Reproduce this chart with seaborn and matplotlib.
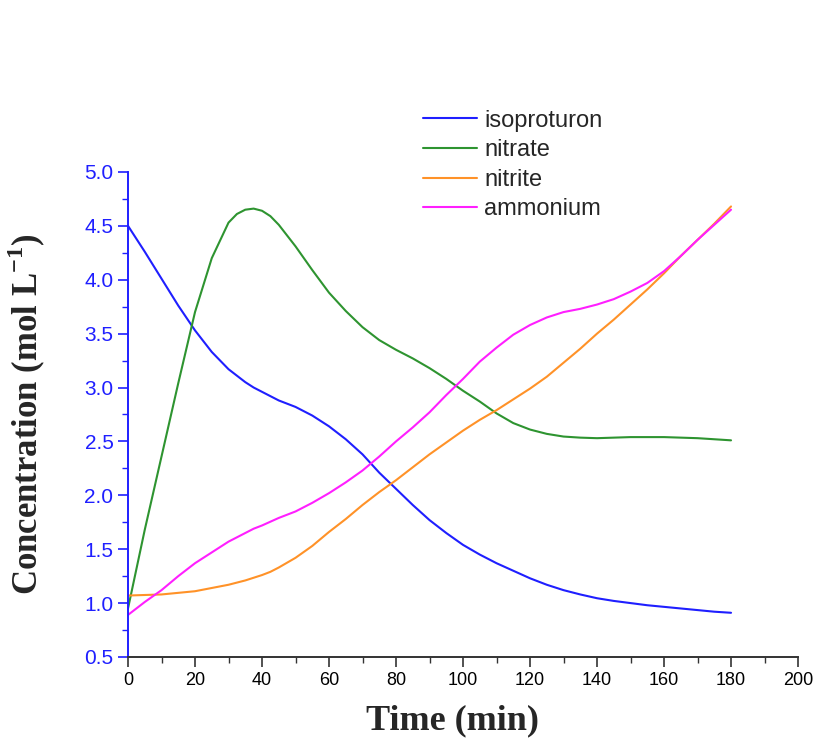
"""Concentration of isoproturon and nitrogen species over treatment time."""

import matplotlib

matplotlib.use("Agg")
import matplotlib.pyplot as plt
import pandas as pd
import seaborn as sns
from matplotlib.ticker import FormatStrFormatter, MultipleLocator

TIME = [0, 5, 10, 15, 20, 25, 30, 32.5, 35, 37.5, 40, 42.5, 45, 50, 55, 60, 65, 70, 75, 80,
        85, 90, 95, 100, 105, 110, 115, 120, 125, 130, 135, 140, 145, 150, 155, 160, 165, 170, 175, 180]

ISOPROTURON = [4.50, 4.26, 4.01, 3.76, 3.53, 3.33, 3.17, 3.11, 3.05, 3.00, 2.96, 2.92, 2.88, 2.82, 2.74,
               2.64, 2.52, 2.38, 2.21, 2.06, 1.91, 1.77, 1.65, 1.54, 1.45, 1.37, 1.30, 1.23, 1.17, 1.12,
               1.08, 1.045, 1.02, 1.00, 0.98, 0.965, 0.95, 0.935, 0.92, 0.91]
NITRATE = [0.95, 1.68, 2.36, 3.04, 3.70, 4.20, 4.53, 4.61, 4.65, 4.66, 4.64, 4.59, 4.51, 4.31, 4.09,
           3.88, 3.71, 3.56, 3.44, 3.35, 3.27, 3.18, 3.08, 2.97, 2.87, 2.76, 2.67, 2.61, 2.57, 2.545,
           2.535, 2.53, 2.535, 2.54, 2.54, 2.54, 2.535, 2.53, 2.52, 2.51]
NITRITE = [1.07, 1.075, 1.08, 1.095, 1.11, 1.14, 1.17, 1.19, 1.21, 1.235, 1.26, 1.29, 1.33, 1.42, 1.53,
           1.66, 1.78, 1.91, 2.03, 2.14, 2.26, 2.38, 2.49, 2.60, 2.70, 2.79, 2.89, 2.99, 3.10, 3.23,
           3.36, 3.50, 3.63, 3.77, 3.91, 4.06, 4.22, 4.37, 4.52, 4.68]
AMMONIUM = [0.89, 1.01, 1.12, 1.25, 1.37, 1.47, 1.57, 1.61, 1.65, 1.69, 1.72, 1.755, 1.79, 1.85, 1.93,
            2.02, 2.12, 2.23, 2.36, 2.50, 2.63, 2.77, 2.93, 3.08, 3.24, 3.37, 3.49, 3.58, 3.65, 3.70,
            3.73, 3.77, 3.82, 3.89, 3.97, 4.08, 4.22, 4.37, 4.51, 4.65]

SERIES = {
    "isoproturon": ISOPROTURON,
    "nitrate": NITRATE,
    "nitrite": NITRITE,
    "ammonium": AMMONIUM,
}
COLORS = {
    "isoproturon": "#1f1fff",
    "nitrate": "#2e9430",
    "nitrite": "#ff9228",
    "ammonium": "#ff1fff",
}
AXIS_BLUE = "#1f1fff"
SERIF = ["Liberation Serif", "DejaVu Serif"]

frames = [pd.DataFrame({"time": TIME, "conc": values, "species": name}) for name, values in SERIES.items()]
data = pd.concat(frames, ignore_index=True)

sns.set_style("ticks")
plt.rcParams["font.family"] = ["Liberation Sans", "DejaVu Sans"]
plt.rcParams["mathtext.fontset"] = "custom"
plt.rcParams["mathtext.rm"] = "Liberation Serif"
plt.rcParams["mathtext.bf"] = "Liberation Serif:bold"

fig = plt.figure(figsize=(8.19, 7.48), dpi=100)
ax = fig.add_axes([0.1563, 0.1217, 0.8181, 0.6484])

sns.lineplot(
    data=data,
    x="time",
    y="conc",
    hue="species",
    hue_order=list(SERIES),
    palette=COLORS,
    linewidth=1.5,
    ax=ax,
)

ax.set_xlim(0, 200)
ax.set_ylim(0.5, 5.0)
ax.xaxis.set_major_locator(MultipleLocator(20))
ax.xaxis.set_minor_locator(MultipleLocator(10))
ax.yaxis.set_major_locator(MultipleLocator(0.5))
ax.yaxis.set_minor_locator(MultipleLocator(0.25))
ax.yaxis.set_major_formatter(FormatStrFormatter("%.1f"))

for side in ("top", "right"):
    ax.spines[side].set_visible(False)
ax.spines["left"].set_color(AXIS_BLUE)
ax.spines["bottom"].set_color("#333333")
ax.spines["left"].set_linewidth(1.4)
ax.spines["bottom"].set_linewidth(1.4)

ax.tick_params(axis="y", which="major", length=7, width=1.2, color=AXIS_BLUE, labelcolor=AXIS_BLUE, labelsize=15)
ax.tick_params(axis="y", which="minor", length=4, width=1.0, color=AXIS_BLUE)
ax.tick_params(axis="x", which="major", length=7, width=1.2, color="#333333", labelcolor="black", labelsize=13)
ax.tick_params(axis="x", which="minor", length=4, width=1.0, color="#333333")

ax.set_xlabel("Time (min)", fontsize=26, fontweight="bold", family=SERIF)
ax.set_ylabel(r"Concentration (mol L$^{\mathbf{-1}}$)", fontsize=25, fontweight="bold", family=SERIF)
ax.xaxis.set_label_coords(0.485, -0.098)
ax.yaxis.set_label_coords(-0.119, 0.5)

ax.legend_.remove()
handles, labels = ax.get_legend_handles_labels()
fig.legend(
    handles,
    labels,
    loc="upper left",
    bbox_to_anchor=(0.505, 0.866),
    frameon=False,
    fontsize=17,
    handlelength=2.3,
    handletextpad=0.3,
    labelspacing=0.32,
    borderaxespad=0,
)

fig.savefig("out.png", dpi=100, facecolor="white")
plt.close(fig)
